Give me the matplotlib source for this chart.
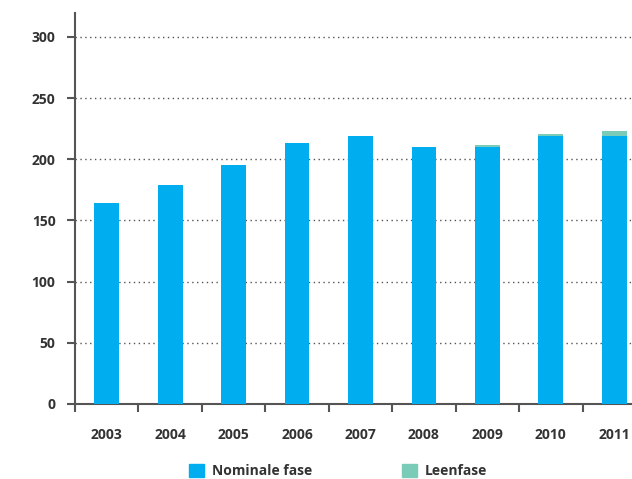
import numpy as np
import matplotlib
matplotlib.use('Agg')
from matplotlib import pyplot as plt
from matplotlib.patches import Patch

years = ['2003', '2004', '2005', '2006', '2007', '2008', '2009', '2010', '2011']
nominale = [164, 179, 195, 213, 219, 210, 210, 219, 219]
leenfase = [0, 0, 0, 0, 0, 0, 2, 2, 4]

blue = '#00AEEF'
teal = '#7ACCB8'
dark = '#555555'

plt.rcParams['font.family'] = ['Open Sans', 'DejaVu Sans']

fig = plt.figure(figsize=(6.32, 4.79), dpi=100)
ax = fig.add_axes([0.1187, 0.1566, 0.8813, 0.8163])

x = np.arange(len(years))
width = 0.39
ax.bar(x, nominale, width=width, color=blue, zorder=3)
ax.bar(x, leenfase, width=width, bottom=nominale, color=teal, zorder=3)

ax.set_xlim(-0.5, 8.28)
ax.set_ylim(0, 319.6)

ax.set_yticks(range(0, 301, 50))
ax.set_xticks(x)
ax.set_xticklabels(years)
# boundary ticks between the categories
ax.set_xticks(np.arange(-0.5, 8.3, 1), minor=True)
ax.tick_params(axis='x', which='major', length=0, pad=17)
ax.tick_params(axis='x', which='minor', length=6, width=1.5, color=dark, direction='out')
ax.tick_params(axis='y', length=6, width=1.5, color=dark, pad=8)

for lab in ax.get_xticklabels() + ax.get_yticklabels():
    lab.set_fontsize(10)
    lab.set_fontweight('bold')
    lab.set_color('#333333')

ax.yaxis.grid(True, linestyle=(0, (1, 2.5)), color=dark, linewidth=1, zorder=0)
ax.set_axisbelow(True)

for side in ['top', 'right']:
    ax.spines[side].set_visible(False)
for side in ['left', 'bottom']:
    ax.spines[side].set_color(dark)
    ax.spines[side].set_linewidth(1.5)

handles = [Patch(color=blue, label='Nominale fase'), Patch(color=teal, label='Leenfase')]
leg = fig.legend(handles=handles, loc='center', bbox_to_anchor=(0.535, 0.017),
                 ncol=2, frameon=False, handlelength=1.1, handleheight=1.1,
                 handletextpad=0.6, columnspacing=6.4, prop={'weight': 'bold', 'size': 10})
for t in leg.get_texts():
    t.set_color('#333333')

plt.savefig('out.png', dpi=100)
